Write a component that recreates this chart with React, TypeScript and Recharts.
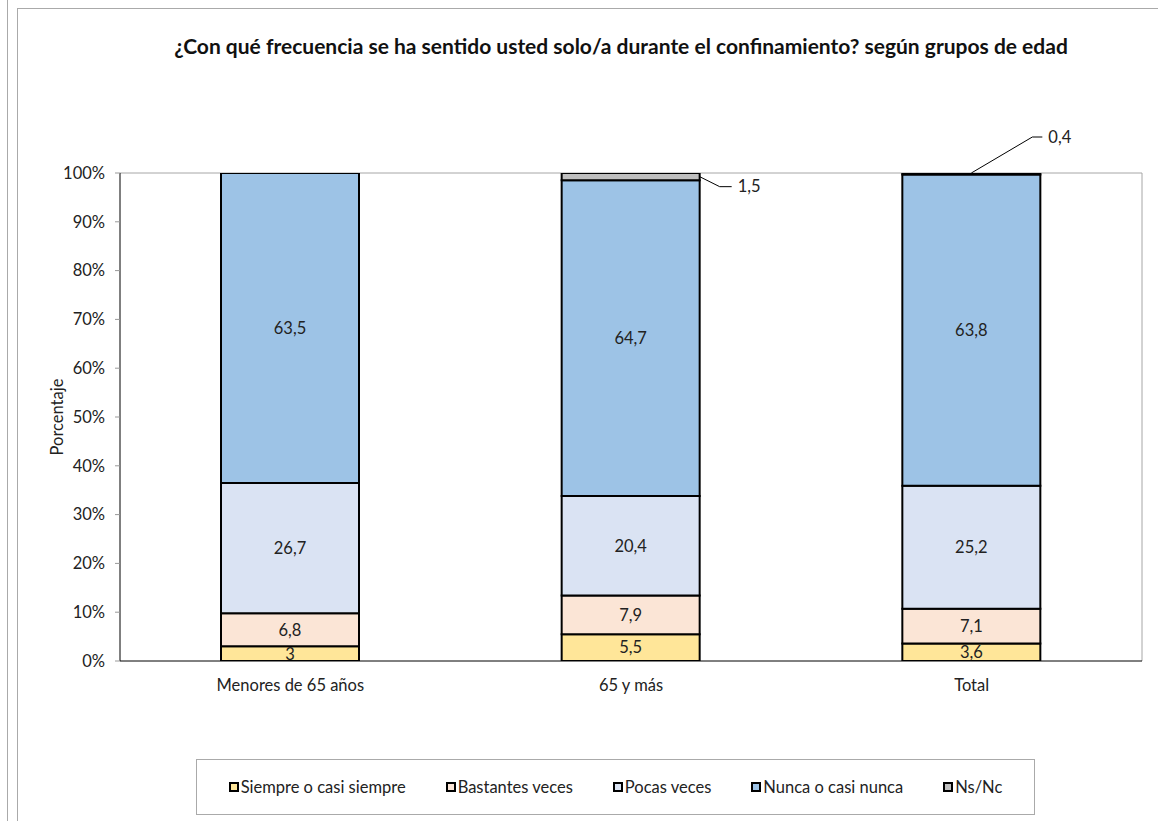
import React from "react";
import { BarChart, Bar, XAxis, YAxis, CartesianGrid, Legend, LabelList } from "recharts";

const categories = ["Menores de 65 años", "65 y más", "Total"];
const siempre = [3, 5.5, 3.6];
const bastantes = [6.8, 7.9, 7.1];
const pocas = [26.7, 20.4, 25.2];
const nunca = [63.5, 64.7, 63.8];
const nsnc = [0, 1.5, 0.4];
const yTicks = [0, 10, 20, 30, 40, 50, 60, 70, 80, 90, 100];

const seriesNames = ["Siempre o casi siempre", "Bastantes veces", "Pocas veces", "Nunca o casi nunca", "Ns/Nc"];
const seriesColors = ["#FFE699", "#FBE5D6", "#DAE3F3", "#9DC3E6", "#BFBFBF"];

const data = categories.map((c, i) => ({
  name: c,
  s0: siempre[i],
  s1: bastantes[i],
  s2: pocas[i],
  s3: nunca[i],
  s4: nsnc[i],
}));

const FONT = "Lato, 'Open Sans', sans-serif";
const FS = 16.5;
const fmt = (v: any) => String(v).replace(".", ",");

// leader lines for the thin Ns/Nc slices, keyed by category
const leaders: Record<string, { fromX: number; fromY: number; dx: number; dy: number; run: number }> = {
  "65 y más": { fromX: 1, fromY: 0.5, dx: 20, dy: 10, run: 12 },
  Total: { fromX: 0.5, fromY: 0, dx: 61, dy: -36, run: 10 },
};

const NsLabel = (props: any) => {
  const { x, y, width, height, value } = props;
  const cat = props.payload?.name ?? categories[nsnc.indexOf(value)];
  const cfg = leaders[cat];
  if (!value || !cfg) return null;
  const x0 = x + width * cfg.fromX;
  const y0 = y + height * cfg.fromY;
  const x1 = x0 + cfg.dx;
  const y1 = y0 + cfg.dy;
  const x2 = x1 + cfg.run;
  return (
    <g>
      <polyline points={`${x0},${y0} ${x1},${y1} ${x2},${y1}`} fill="none" stroke="#000" strokeWidth={1} />
      <text x={x2 + 6} y={y1} dy="0.35em" fontSize={FS} fill="#222" fontFamily={FONT}>
        {fmt(value)}
      </text>
    </g>
  );
};

const LegendBox = () => (
  <div
    style={{
      boxSizing: "border-box",
      width: 839,
      height: 56,
      border: "1px solid #aaa",
      display: "flex",
      alignItems: "center",
      justifyContent: "center",
      gap: 40,
      fontFamily: FONT,
      fontSize: FS,
      color: "#222",
      background: "#fff",
    }}
  >
    {seriesNames.map((n, i) => (
      <span key={n} style={{ display: "flex", alignItems: "center" }}>
        <span
          style={{
            display: "inline-block",
            width: 6,
            height: 6,
            border: "2px solid #000",
            background: seriesColors[i],
            marginRight: 2,
          }}
        />
        {n}
      </span>
    ))}
  </div>
);

const App = () => {
  return (
    <div style={{ position: "absolute", left: 0, top: 0, width: 1158, height: 821, overflow: "hidden", background: "#fff" }}>
      {/* page frame lines */}
      <div style={{ position: "absolute", left: 7, top: 0, width: 0, height: 821, borderLeft: "1px solid #aaa" }} />
      <div style={{ position: "absolute", left: 17, top: 8, width: 1141, height: 813, borderLeft: "1px solid #aaa", borderTop: "1px solid #aaa" }} />
      <div
        style={{
          position: "absolute",
          left: 0,
          width: 1242,
          top: 33,
          textAlign: "center",
          fontFamily: FONT,
          fontWeight: "bold",
          fontSize: 21,
          color: "#111",
          whiteSpace: "nowrap",
        }}
      >
        ¿Con qué frecuencia se ha sentido usted solo/a durante el confinamiento? según grupos de edad
      </div>
      <div style={{ position: "absolute", left: 0, top: 0 }}>
        <BarChart width={1158} height={821} data={data} margin={{ top: 173, right: 16, left: 52, bottom: 74 }}>
          <CartesianGrid
            stroke="#a6a6a6"
            horizontalCoordinatesGenerator={({ offset }: any) => [offset.top]}
            verticalCoordinatesGenerator={({ offset }: any) => [offset.left + offset.width]}
          />
          <XAxis
            dataKey="name"
            axisLine={{ stroke: "#000" }}
            tickLine={false}
            tickMargin={12}
            tick={{ fontSize: FS, fill: "#222", fontFamily: FONT }}
          />
          <YAxis
            width={68}
            domain={[0, 100]}
            ticks={yTicks}
            allowDataOverflow
            tickFormatter={(v) => `${v}%`}
            axisLine={{ stroke: "#000" }}
            tickLine={{ stroke: "#999" }}
            tickSize={5}
            tickMargin={10}
            tick={{ fontSize: FS, fill: "#222", fontFamily: FONT }}
            label={{
              value: "Porcentaje",
              angle: -90,
              position: "insideLeft",
              offset: 5,
              style: { textAnchor: "middle", fontSize: FS, fill: "#222", fontFamily: FONT },
            }}
          />
          <Legend
            content={() => <LegendBox />}
            wrapperStyle={{ left: 196, top: 759, bottom: "auto", width: 839, height: 56 }}
          />
          {seriesNames.map((n, i) => (
            <Bar
              key={n}
              dataKey={`s${i}`}
              name={n}
              stackId="a"
              fill={seriesColors[i]}
              stroke="#000"
              strokeWidth={2}
              barSize={138}
              isAnimationActive={false}
            >
              {i < 4 ? (
                <LabelList
                  dataKey={`s${i}`}
                  position="center"
                  formatter={fmt}
                  style={{ fontSize: FS, fill: "#222", fontFamily: FONT }}
                />
              ) : (
                <LabelList dataKey={`s${i}`} content={<NsLabel />} />
              )}
            </Bar>
          ))}
        </BarChart>
      </div>
    </div>
  );
};

export default App;
